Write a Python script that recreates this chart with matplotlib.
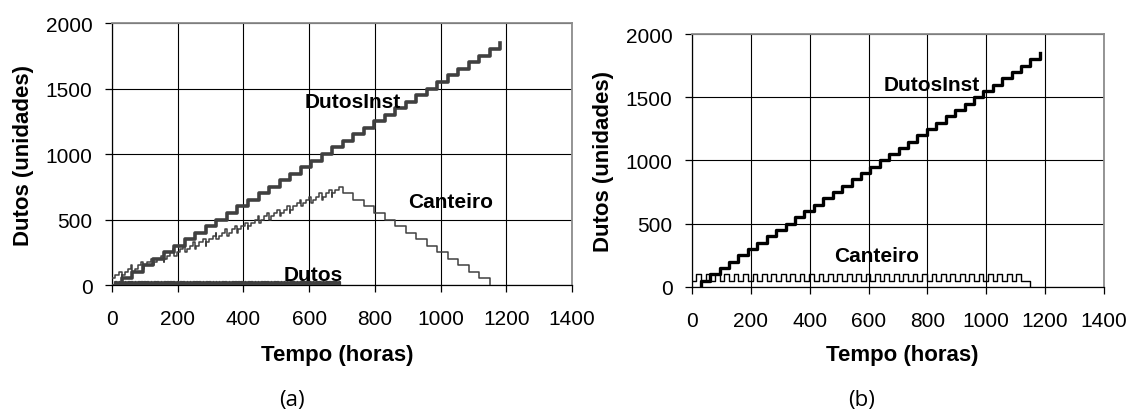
"""
Dutos no canteiro e dutos instalados ao longo do tempo, cenários (a) e (b).
"""

import numpy as np
import matplotlib

matplotlib.use("Agg")
import matplotlib.pyplot as plt

plt.rcParams["font.family"] = ["Liberation Sans", "DejaVu Sans"]


# DADOS

# instantes em que um lote de dutos é instalado (horas)
inst_t = [30, 62, 94, 126, 158, 190, 222, 254, 286, 318, 350, 382, 414,
          446, 478, 510, 542, 574, 606, 638, 670, 702, 734, 766, 798, 830,
          862, 894, 926, 958, 990, 1022, 1054, 1086, 1118, 1150, 1182]
LOTE_INST = 50

# (a) chegadas de dutos ao canteiro (horas)
cheg_a = [10, 20, 30, 39, 49, 59, 69, 79, 89, 99,
          108, 118, 128, 138, 148, 158, 168, 177, 187, 197,
          207, 217, 227, 237, 247, 256, 266, 276, 286, 296,
          306, 316, 325, 335, 345, 355, 365, 375, 385, 394,
          404, 414, 424, 434, 444, 454, 463, 473, 483, 493,
          503, 513, 523, 532, 542, 552, 562, 572, 582, 592,
          601, 611, 621, 631, 641, 651, 661, 670, 680, 690]
LOTE_CHEG_A = 25
ESTOQUE_INICIAL_A = 50
DUTOS_TRANSITO = 20
DURACAO_TRANSITO = 5

# (b) chegadas de dutos ao canteiro (horas)
cheg_b = [14, 46, 78, 110, 142, 174, 206, 238, 270, 302, 334, 366, 398,
          430, 462, 494, 526, 558, 590, 622, 654, 686, 718, 750, 782, 814,
          846, 878, 910, 942, 974, 1006, 1038, 1070, 1102]
LOTE_CHEG_B = 50
ESTOQUE_INICIAL_B = 50

# retiradas do canteiro
ret_t = inst_t[:-1]


def degraus(eventos, t_ini, t_fim, v_ini):
    """Vértices de uma curva em degraus a partir de (tempo, variação)."""
    eventos = sorted(eventos)
    xs, ys = [t_ini], [v_ini]
    v = v_ini
    for t, dv in eventos:
        xs.append(t)
        ys.append(v)
        v += dv
        xs.append(t)
        ys.append(v)
    xs.append(t_fim)
    ys.append(v)
    return np.array(xs), np.array(ys)


# SERIES

x_inst, y_inst = degraus([(t, LOTE_INST) for t in inst_t], inst_t[0], inst_t[-1], 0)

x_cant_a, y_cant_a = degraus(
    [(t, LOTE_CHEG_A) for t in cheg_a] + [(t, -LOTE_INST) for t in ret_t],
    0, ret_t[-1], ESTOQUE_INICIAL_A,
)

x_dutos, y_dutos = degraus(
    [(t, DUTOS_TRANSITO) for t in cheg_a]
    + [(t + DURACAO_TRANSITO, -DUTOS_TRANSITO) for t in cheg_a],
    0, cheg_a[-1] + DURACAO_TRANSITO, 0,
)

x_cant_b, y_cant_b = degraus(
    [(t, LOTE_CHEG_B) for t in cheg_b] + [(t, -LOTE_INST) for t in ret_t],
    0, ret_t[-1], ESTOQUE_INICIAL_B,
)


# GRAFICOS


def formatar_eixo(ax, ylabel_x, xlabel_x):
    ax.set_xlim(0, 1400)
    ax.set_ylim(0, 2000)
    ax.set_xticks(np.arange(0, 1401, 200))
    ax.set_yticks(np.arange(0, 2001, 500))
    ax.grid(True, color="black", linewidth=0.8)
    ax.set_axisbelow(True)
    for lado in ["top", "right"]:
        ax.spines[lado].set_color("#8c8c8c")
        ax.spines[lado].set_linewidth(1.3)
    for lado in ["left", "bottom"]:
        ax.spines[lado].set_color("black")
        ax.spines[lado].set_linewidth(0.9)
    ax.tick_params(axis="both", direction="out", length=5, width=0.9,
                   labelsize=15)
    ax.tick_params(axis="x", pad=12)
    ax.tick_params(axis="y", pad=9)
    ax.set_xlabel("Tempo (horas)", fontsize=16, fontweight="bold")
    ax.set_ylabel("Dutos (unidades)", fontsize=16, fontweight="bold")
    ax.xaxis.set_label_coords(xlabel_x, -0.225)
    ax.yaxis.set_label_coords(ylabel_x, 0.5)


fig = plt.figure(figsize=(11.32, 4.10), dpi=100)

ax_a = fig.add_axes([0.0989, 0.3024, 0.4064, 0.639])
ax_b = fig.add_axes([0.6113, 0.2976, 0.364, 0.617])

cinza = "#404040"

ax_a.plot(x_inst, y_inst, color=cinza, linewidth=2.6, zorder=3)
ax_a.plot(x_cant_a, y_cant_a, color=cinza, linewidth=1.1, zorder=3)
ax_a.plot(x_dutos, y_dutos, color=cinza, linewidth=1.6, zorder=3)
formatar_eixo(ax_a, -0.17, 0.49)
ax_a.text(733, 1400, "DutosInst", fontsize=15, fontweight="bold",
          ha="center", va="center", zorder=4)
ax_a.text(1032, 634, "Canteiro", fontsize=15, fontweight="bold",
          ha="center", va="center", zorder=4)
ax_a.text(612, 84, "Dutos", fontsize=15, fontweight="bold",
          ha="center", va="center", zorder=4)

ax_b.plot(x_inst, y_inst, color="black", linewidth=2.4, zorder=3)
ax_b.plot(x_cant_b, y_cant_b, color="black", linewidth=1.0, zorder=3)
formatar_eixo(ax_b, -0.19, 0.51)
ax_b.text(816, 1597, "DutosInst", fontsize=15, fontweight="bold",
          ha="center", va="center", zorder=4)
ax_b.text(629, 245, "Canteiro", fontsize=15, fontweight="bold",
          ha="center", va="center", zorder=4)

fig.text(0.258, 0.022, "(a)", fontsize=16, family=["Open Sans", "DejaVu Sans"],
         ha="center", va="center")
fig.text(0.761, 0.022, "(b)", fontsize=16, family=["Open Sans", "DejaVu Sans"],
         ha="center", va="center")

fig.savefig("out.png", dpi=100)
